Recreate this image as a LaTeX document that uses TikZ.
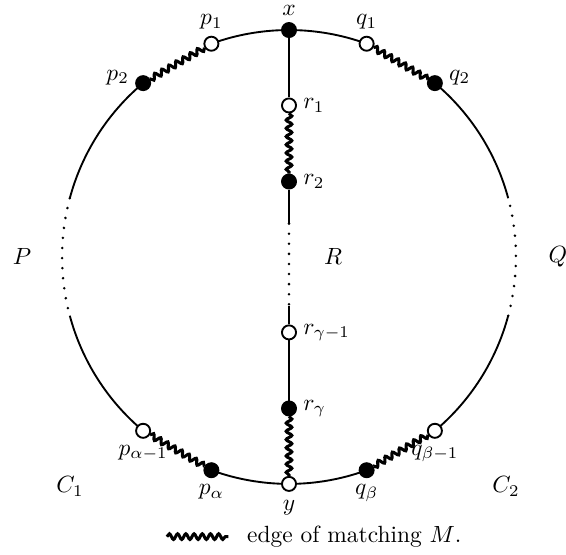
\documentclass[tikz,border=0pt]{standalone}
\usepackage{amsmath,amssymb}
\usepackage{tikz}
\usetikzlibrary{decorations.pathmorphing,backgrounds}
\newcommand{\rad}{3.4}

\begin{document}
\begin{tikzpicture}[
  vtx/.style={circle, draw, line width=0.8pt, minimum size=6pt, inner sep=0pt},
  bvtx/.style={vtx, fill=black},
  wvtx/.style={vtx, fill=white},
  edg/.style={line width=0.8pt},
  medg/.style={line width=1.3pt, decorate, decoration={snake, amplitude=1.2pt, segment length=3.5pt}},
  gap/.style={line width=1.2pt, line cap=round, dash pattern=on 0pt off 4.3pt},
  every label/.style={inner sep=2.5pt}
]
  \useasboundingbox (-4.33,-4.46) rectangle (4.15,3.85);

  % vertices on the cycle
  \node[bvtx, label=above:$x$] (x) at (90:\rad) {};
  \node[wvtx, label=above:$p_1$] (p1) at (110:\rad) {};
  \node[bvtx, label={[yshift=2.5pt]left:$p_2$}] (p2) at (130:\rad) {};
  \node[wvtx, label=above:$q_1$] (q1) at (70:\rad) {};
  \node[bvtx, label={[yshift=2.5pt]right:$q_2$}] (q2) at (50:\rad) {};
  \node[wvtx, label=below:$p_{\alpha-1}$] (pa1) at (230:\rad) {};
  \node[bvtx, label=below:$p_\alpha$] (pa) at (250:\rad) {};
  \node[wvtx, label={[inner sep=3.5pt]below:$y$}] (y) at (270:\rad) {};
  \node[bvtx, label=below:$q_\beta$] (qb) at (290:\rad) {};
  \node[wvtx, label=below:$q_{\beta-1}$] (qb1) at (310:\rad) {};

  % vertices on R
  \node[wvtx, label=right:$r_1$] (r1) at (0,2.27) {};
  \node[bvtx, label=right:$r_2$] (r2) at (0,1.13) {};
  \node[wvtx, label=right:$r_{\gamma-1}$] (rg1) at (0,-1.13) {};
  \node[bvtx, label=right:$r_\gamma$] (rg) at (0,-2.27) {};

  \coordinate (pl1) at (165:\rad);
  \coordinate (pl2) at (195:\rad);
  \coordinate (ql1) at (15:\rad);
  \coordinate (ql2) at (-15:\rad);
  \coordinate (rtop) at (0,0.5);
  \coordinate (rbot) at (0,-0.73);

  \node (P) at (-4.0,0) {$P$};
  \node (Q) at (4.03,0) {$Q$};
  \node (R) at (0.66,0) {$R$};
  \node (C1) at (-3.28,-3.44) {$C_1$};
  \node (C2) at (3.25,-3.44) {$C_2$};

  % legend
  \coordinate (wv0) at (-1.83,-4.19);
  \coordinate (wv1) at (-0.91,-4.19);
  \node[anchor=west] (legtxt) at (-0.75,-4.19) {edge of matching $M$.};
  \draw[medg] (wv0) -- (wv1);

  \begin{scope}[on background layer]
    \draw[edg] (p1) arc[start angle=110, end angle=70, radius=\rad];
    \draw[edg] (p2) arc[start angle=130, end angle=165, radius=\rad];
    \draw[gap] (pl1) arc[start angle=165, end angle=195, radius=\rad];
    \draw[edg] (pl2) arc[start angle=195, end angle=230, radius=\rad];
    \draw[edg] (pa) arc[start angle=250, end angle=290, radius=\rad];
    \draw[edg] (qb1) arc[start angle=310, end angle=345, radius=\rad];
    \draw[gap] (ql2) arc[start angle=-15, end angle=15, radius=\rad];
    \draw[edg] (ql1) arc[start angle=15, end angle=50, radius=\rad];

    \draw[edg] (x) -- (r1);
    \draw[edg] (r2) -- (rtop);
    \draw[gap] (rtop) -- (rbot);
    \draw[edg] (rbot) -- (rg1);
    \draw[edg] (rg1) -- (rg);

    % matching edges
    \draw[medg] (p1) -- (p2);
    \draw[medg] (q1) -- (q2);
    \draw[medg] (r1) -- (r2);
    \draw[medg] (rg) -- (y);
    \draw[medg] (pa1) -- (pa);
    \draw[medg] (qb1) -- (qb);
  \end{scope}
\end{tikzpicture}
\end{document}
